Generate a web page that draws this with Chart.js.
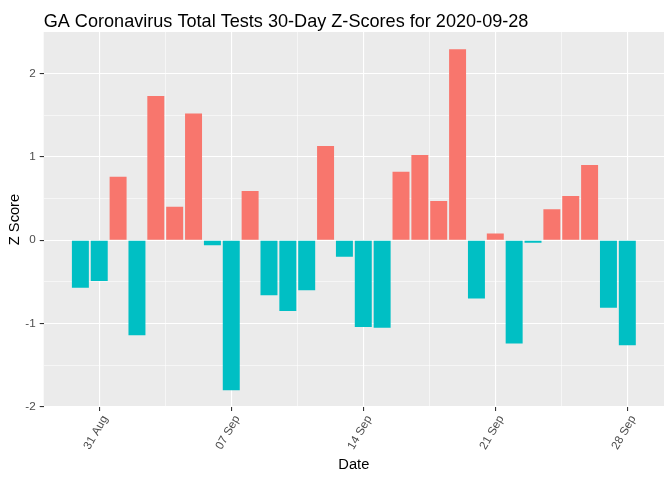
<!DOCTYPE html>
<html>
<head>
<meta charset="utf-8">
<script src="https://cdn.jsdelivr.net/npm/chart.js@4"></script>
<style>
  html, body { margin: 0; padding: 0; background: #FFFFFF; }
  #wrap { width: 672px; height: 480px; }
</style>
</head>
<body>
<div id="wrap"><canvas id="zChart" width="672" height="480"></canvas></div>
<script>
// GA total tests, 30-day z-scores (one bar per day)
const dates = [
    '2020-08-30', '2020-08-31', '2020-09-01', '2020-09-02', '2020-09-03', '2020-09-04',
    '2020-09-05', '2020-09-06', '2020-09-07', '2020-09-08', '2020-09-09', '2020-09-10',
    '2020-09-11', '2020-09-12', '2020-09-13', '2020-09-14', '2020-09-15', '2020-09-16',
    '2020-09-17', '2020-09-18', '2020-09-19', '2020-09-20', '2020-09-21', '2020-09-22',
    '2020-09-23', '2020-09-24', '2020-09-25', '2020-09-26', '2020-09-27', '2020-09-28'
];
const zScores = [
    -0.57, -0.49, 0.76, -1.14, 1.73, 0.40,
    1.52, -0.06, -1.80, 0.59, -0.66, -0.85,
    -0.60, 1.13, -0.20, -1.04, -1.05, 0.82,
    1.02, 0.47, 2.29, -0.70, 0.08, -1.24,
    -0.03, 0.37, 0.53, 0.90, -0.81, -1.26
];
const xTickDates = ['2020-08-31', '2020-09-07', '2020-09-14', '2020-09-21', '2020-09-28'];
const xTickLabels = ['31 Aug', '07 Sep', '14 Sep', '21 Sep', '28 Sep'];
const yTicks = [-2, -1, 0, 1, 2];

const titleText = 'GA Coronavirus Total Tests 30-Day Z-Scores for 2020-09-28';
const POS = '#F8766D';
const NEG = '#00BFC4';
const FONT = '"Liberation Sans", Arial, sans-serif';

// ggplot-style panel: grey background + left aligned title
const ggPanel = {
    id: 'ggPanel',
    beforeDraw(chart) {
        const { ctx, chartArea: a } = chart;
        ctx.save();
        ctx.fillStyle = '#EBEBEB';
        ctx.fillRect(a.left, a.top, a.right - a.left, a.bottom - a.top);
        ctx.restore();
    },
    afterDraw(chart) {
        const { ctx, chartArea: a } = chart;
        ctx.save();
        ctx.font = '18.1px ' + FONT;
        ctx.fillStyle = '#000000';
        ctx.textBaseline = 'alphabetic';
        ctx.fillText(titleText, a.left, 26.5);
        ctx.restore();
    }
};

const xMajor = xTickDates.map(d => dates.indexOf(d));
const xMinor = xMajor.slice(0, -1).map(v => v + 3.5);
const yMinor = yTicks.slice(0, -1).map(v => v + 0.5);

const isMajor = (list, c) => !!(c && c.tick) && list.some(m => Math.abs(m - c.tick.value) < 1e-6);

new Chart(document.getElementById('zChart'), {
    type: 'bar',
    data: {
        datasets: [{
            data: zScores.map((v, i) => ({ x: i, y: v })),
            backgroundColor: zScores.map(v => v > 0 ? POS : NEG),
            borderWidth: 0,
            categoryPercentage: 1,
            barPercentage: 0.9
        }]
    },
    options: {
        responsive: false,
        animation: false,
        layout: { padding: { top: 32, right: 8, left: 0, bottom: 0 } },
        plugins: {
            legend: { display: false },
            tooltip: { enabled: false }
        },
        scales: {
            x: {
                type: 'linear',
                min: -1.945,
                max: dates.length - 1 + 1.945,
                offset: false,
                afterBuildTicks: s => {
                    s.ticks = xMajor.concat(xMinor).sort((a, b) => a - b).map(v => ({ value: v }));
                },
                afterFit: s => { s.height = 73; },
                ticks: {
                    autoSkip: false,
                    minRotation: 60,
                    maxRotation: 60,
                    padding: 2,
                    labelOffset: 6,
                    color: '#4D4D4D',
                    font: { family: FONT, size: 11.7 },
                    callback: v => {
                        const k = xMajor.findIndex(m => Math.abs(m - v) < 1e-6);
                        return k >= 0 ? xTickLabels[k] : '';
                    }
                },
                grid: {
                    offset: false,
                    color: '#FFFFFF',
                    lineWidth: c => isMajor(xMajor, c) ? 1.1 : 0.55,
                    tickColor: c => isMajor(xMajor, c) ? '#333333' : 'rgba(0,0,0,0)',
                    tickLength: 4
                },
                border: { display: false },
                title: {
                    display: true,
                    text: 'Date',
                    color: '#000000',
                    font: { family: FONT, size: 14.67 },
                    padding: { top: 0, bottom: 6 }
                }
            },
            y: {
                min: -2,
                max: 2.496,
                afterBuildTicks: s => {
                    s.ticks = yTicks.concat(yMinor).sort((a, b) => a - b).map(v => ({ value: v }));
                },
                afterFit: s => { s.width = 43.7; },
                ticks: {
                    padding: 4,
                    color: '#4D4D4D',
                    font: { family: FONT, size: 11.7 },
                    callback: v => yTicks.includes(v) ? String(v) : ''
                },
                grid: {
                    color: '#FFFFFF',
                    lineWidth: c => isMajor(yTicks, c) ? 1.1 : 0.55,
                    tickColor: c => isMajor(yTicks, c) ? '#333333' : 'rgba(0,0,0,0)',
                    tickLength: 4
                },
                border: { display: false },
                title: {
                    display: true,
                    text: 'Z Score',
                    color: '#000000',
                    font: { family: FONT, size: 14.67 },
                    padding: { top: 6, bottom: 0 }
                }
            }
        }
    },
    plugins: [ggPanel]
});
</script>
</body>
</html>
